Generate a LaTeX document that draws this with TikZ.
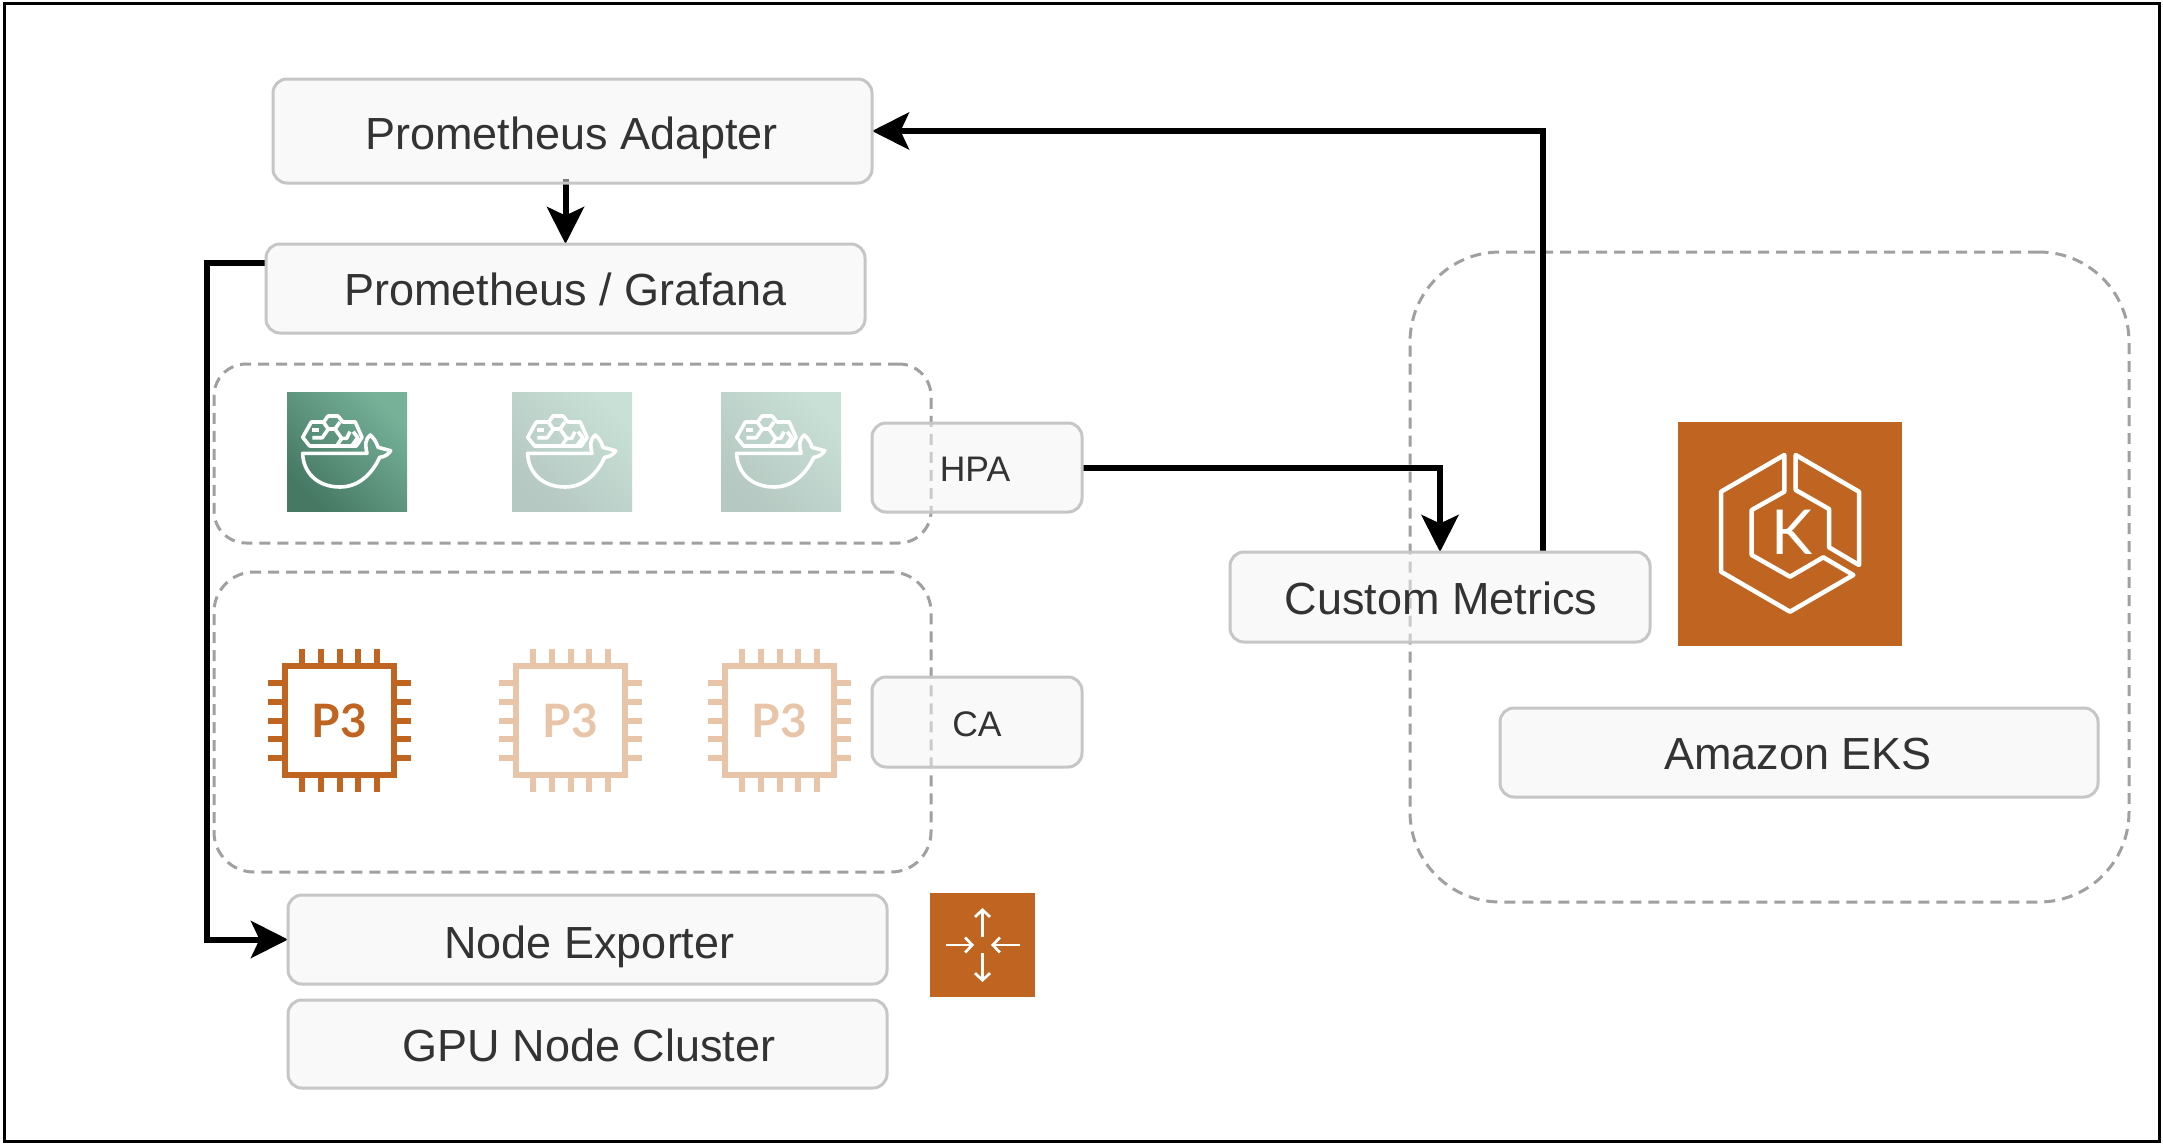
\documentclass[tikz,border=0pt]{standalone}
\usepackage{fontspec}
\setmainfont{Liberation Sans}
\newfontfamily\iconfont{Lato}
\usepackage{tikz}
\usetikzlibrary{arrows.meta,backgrounds}
\definecolor{boxline}{HTML}{C6C6C6}
\definecolor{boxfill}{HTML}{F5F5F5}
\definecolor{boxtext}{HTML}{333333}
\definecolor{groupline}{HTML}{A0A0A0}
\definecolor{awsorange}{HTML}{BF6521}
\definecolor{awsfaded}{HTML}{E8C4A8}
\definecolor{whalehi}{HTML}{76B198}
\definecolor{whalelo}{HTML}{467864}
\definecolor{whalehifaded}{HTML}{C8E0D6}
\definecolor{whalelofaded}{HTML}{B5C8C1}
\tikzset{
        labelbox/.style={draw=boxline, fill=boxfill, fill opacity=0.5, text opacity=1, line width=3pt,
            rounded corners=14pt, text=boxtext, inner sep=0pt, outer sep=0pt,
            text depth=0pt, font=\fontsize{45}{54}\selectfont},
        smallbox/.style={labelbox, font=\fontsize{35.5}{42}\selectfont},
        groupbox/.style={draw=groupline, line width=3pt, dash pattern=on 11pt off 7pt,
            inner sep=0pt, outer sep=0pt},
        flow/.style={line width=6pt, -{Stealth[length=37pt, width=37pt, inset=8.5pt]}},
        iconline/.style={draw=white, line width=4.5pt, line join=round, line cap=round},
        whaleline/.style={draw=white, line width=3.6pt, line join=round},
    }

\begin{document}
\begin{tikzpicture}[x = 1pt, y = -1pt]
                \useasboundingbox (0,0) rectangle (2163,1146);
                \draw[line width=3pt] (4,3) rectangle (2159,1141);

                \foreach \n/\x/\hi/\lo in {1/287/whalehi/whalelo,2/512/whalehifaded/whalelofaded,3/721/whalehifaded/whalelofaded}
                {
                    \begin{scope}[shift={(\x,392)}]
                        \shade[bottom color=\lo, top color=\hi, shading angle=-45] (0,0) rectangle (120,119);
                        \draw[whaleline] (15.7,45.3)--(24.3,30)--(36.7,30)--(41,24)--(51,24)--(56,30)--(68.3,30)--(75,45.3)--(69.3,54)--(22.7,54)--cycle;
                        \draw[whaleline] (25.3,45.7)--(35.3,45.7)--(41.3,37)--(36.3,30);
                        \draw[whaleline] (25.3,38)--(32,38);
                        \draw[whaleline] (41.3,37)--(48,37)--(53,30);
                        \draw[whaleline] (48,37)--(54.7,46.3)--(59.7,46.3)--(63,39.7);
                        \draw[whaleline] (54.7,46.3)--(49.7,54);
                        \draw[whaleline] (66.3,39.7)--(70.7,45.7)--(64.7,54);
                        \draw[whaleline] (15.7,61.3)--(80,61.3) .. controls (78,52) and (78,48) .. (83.3,43)
                            .. controls (88,47) and (90,52) .. (91,55.3)--(103.7,58.7)
                            .. controls (101,63) and (97,65) .. (92.7,65.3)
                            .. controls (84,84) and (70,95) .. (53,95)
                            .. controls (30,95) and (16,80) .. (15.7,61.3)--cycle;
                    \end{scope}
                }

                \foreach \n/\x/\colour in {1/339.5/awsorange,2/570.5/awsfaded,3/779.5/awsfaded}
                {
                    \begin{scope}[shift={(\x,720.5)}]
                        \foreach \p in {-37.5,-18.75,0,18.75,37.5}
                        {
                            \draw[\colour, line width=6pt] (\p,-71.5)--(\p,-55);
                            \draw[\colour, line width=6pt] (\p,71.5)--(\p,55);
                            \draw[\colour, line width=6pt] (-71.5,\p)--(-55,\p);
                            \draw[\colour, line width=6pt] (71.5,\p)--(55,\p);
                        }
                        \draw[\colour, line width=6pt] (-54.5,-54.5) rectangle (54.5,54.5);
                        \node[text=\colour, inner sep=0pt] (chip\n) at (0,0) {\iconfont\fontsize{46}{50}\selectfont\bfseries P3};
                    \end{scope}
                }

                \path[fill=awsorange] (1678,422) rectangle (1902,646);
                \begin{scope}[shift={(1678,422)}]
                    \draw[iconline] (106.3,33)--(43,69.7)--(43,149.7)--(112,189.7)--(175.3,153)--(145.3,135.3)--(112,154.7)--(73.7,133)--(73.7,88)--(106.3,69.7)--cycle;
                    \draw[iconline] (117.7,33)--(181,69.7)--(181,143)--(151,125.3)--(151,87)--(117.7,68)--cycle;
                    \node[text=white, inner sep=0pt] (ekslogo) at (113.7,110.7) {\iconfont\fontsize{62}{66}\selectfont K};
                \end{scope}

                \path[fill=awsorange] (930,893) rectangle (1035,997);
                \begin{scope}[shift={(982.5,945)}]
                    \foreach \r in {0,180}
                    {
                        \draw[white, line width=2.7pt, rotate=\r, -{Straight Barb[length=7pt, width=15pt]}] (0,-8.3) -- (0,-37);
                        \draw[white, line width=2.7pt, rotate=\r, -{Straight Barb[length=7pt, width=15pt]}] (-37,0) -- (-8.5,0);
                    }
                \end{scope}

                \node[labelbox, text height=36.6pt, minimum width=599pt, minimum height=104pt] (adapter) at (572.5,131) {Prometheus Adapter\hspace*{2pt}};
                \node[labelbox, text height=34.4pt, minimum width=599pt, minimum height=89pt] (grafana) at (565.5,288.5) {Prometheus / Grafana};
                \node[smallbox, text height=28pt, minimum width=210pt, minimum height=89pt] (hpa) at (977,467.5) {HPA\hspace*{4pt}};
                \node[smallbox, text height=28pt, minimum width=210pt, minimum height=90pt] (ca) at (977,722) {CA};
                \node[labelbox, text height=37.6pt, minimum width=599pt, minimum height=89pt] (exporter) at (587.5,939.5) {\hspace*{4pt}Node Exporter};
                \node[labelbox, text height=35.4pt, minimum width=599pt, minimum height=88pt] (cluster) at (587.5,1044) {\hspace*{3pt}GPU Node Cluster};
                \node[labelbox, text height=34pt, minimum width=420pt, minimum height=90pt] (custom) at (1440,597) {\hspace*{2pt}Custom Metrics};
                \node[labelbox, text height=33pt, minimum width=598pt, minimum height=89pt] (eks) at (1799,752.5) {Amazon EKS\hspace*{2pt}};

                \begin{scope}[on background layer]
                    \path[fill=white] (0,0) rectangle (2163,1146);
                    \node[groupbox, rounded corners=32pt, minimum width=717pt, minimum height=179pt] (podgroup) at (572.5,453.5) {};
                    \node[groupbox, rounded corners=40pt, minimum width=717pt, minimum height=300pt] (chipgroup) at (572.5,722) {};
                    \node[groupbox, rounded corners=90pt, minimum width=719pt, minimum height=650pt] (eksgroup) at (1769.5,577) {};

                    \coordinate (leftbus) at (207,600);
                    \draw[flow] ([xshift=103pt]custom.north) |- (adapter.east);
                    \draw[flow] ([yshift=4pt]grafana.north |- adapter.south) -- (grafana.north);
                    \draw[flow] ([yshift=26pt]grafana.west) -| (leftbus) |- (exporter.west);
                    \draw[flow] (hpa.east) -| (custom.north);
                \end{scope}
            \end{tikzpicture}
\end{document}
